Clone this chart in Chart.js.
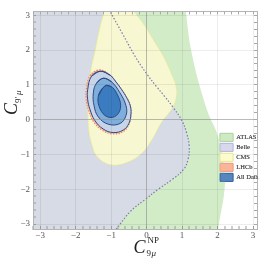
<!DOCTYPE html>
<html><head><meta charset="utf-8">
<script src="https://cdn.jsdelivr.net/npm/chart.js@4/dist/chart.umd.min.js"></script>
<style>html,body{margin:0;padding:0;background:#fff;overflow:hidden}</style>
</head><body>
<canvas id="c" width="262" height="261"></canvas>
<script>
// ---- data ----
const seriesNames = ['ATLAS', 'Belle', 'CMS', 'LHCb', 'All Data'];
const xRange = [-3.2, 3.11];
const yRange = [-3.14, 3.11];
const tickStep = 0.2;

// right-hand boundary of the ATLAS region (top to bottom)
const atlasEdge = [[1.08,3.5],[1.11,3.11],[1.17,2.55],[1.25,2.02],[1.39,1.37],[1.5,0.95],[1.62,0.54],[1.77,0.1],[1.95,-0.3],[2.08,-0.75],[2.17,-1.2],[2.22,-1.6],[2.2,-1.95],[2.16,-2.3],[2.08,-2.75],[2.02,-3.14],[1.99,-3.5]];
// dashed right-hand boundary of the Belle region (top to bottom)
const belleEdge = [[-1.24,3.5],[-1.03,3.11],[-0.68,2.47],[-0.33,1.83],[0.0,1.32],[0.28,0.95],[0.5,0.68],[0.75,0.35],[0.99,-0.02],[1.13,-0.39],[1.2,-0.76],[1.17,-1.13],[1.05,-1.42],[0.72,-1.72],[0.34,-1.99],[-0.05,-2.3],[-0.44,-2.62],[-0.85,-3.14],[-1.13,-3.5]];
// CMS contour
const cmsEdge = [[-1.13,3.4],[-1.2,3.11],[-1.33,2.6],[-1.45,2.0],[-1.55,1.55],[-1.62,1.1],[-1.65,0.5],[-1.64,-0.2],[-1.55,-0.7],[-1.38,-1.08],[-1.0,-1.3],[-0.55,-1.23],[-0.15,-0.98],[0.14,-0.6],[0.42,-0.08],[0.68,0.26],[0.82,0.55],[0.84,0.92],[0.68,1.37],[0.47,1.83],[0.25,2.2],[-0.05,2.7],[-0.35,3.11],[-0.55,3.4]];
// LHCb contour
const lhcbEdge = [[-1.32,1.43],[-1.59,1.27],[-1.7,0.86],[-1.7,0.58],[-1.64,0.29],[-1.5,-0.05],[-1.24,-0.31],[-0.94,-0.41],[-0.65,-0.34],[-0.49,-0.12],[-0.44,0.17],[-0.47,0.45],[-0.56,0.63],[-0.7,0.86],[-0.86,1.08],[-1.03,1.28]];
// All Data contours (outer, middle, inner)
const allOuter = [[-1.3,1.39],[-1.55,1.25],[-1.66,0.86],[-1.66,0.58],[-1.6,0.31],[-1.46,-0.02],[-1.22,-0.27],[-0.94,-0.37],[-0.66,-0.3],[-0.5,-0.11],[-0.44,0.17],[-0.46,0.4],[-0.56,0.63],[-0.7,0.86],[-0.86,1.08],[-1.03,1.28]];
const allMiddle = [[-1.22,1.19],[-1.41,1.05],[-1.5,0.77],[-1.48,0.4],[-1.36,0.08],[-1.08,-0.13],[-0.75,-0.11],[-0.58,0.12],[-0.58,0.4],[-0.75,0.77],[-0.99,1.09]];
const allInner = [[-1.17,0.97],[-1.36,0.68],[-1.31,0.31],[-1.1,0.08],[-0.85,0.12],[-0.73,0.4],[-0.85,0.77],[-1.0,0.95]];

// ---- helpers ----
const pts = a => a.map(p => ({x: p[0], y: p[1]}));
// region extended to the far left, outside the plot
const leftRegion = edge => {
  const far = xRange[0] - 2, top = yRange[1] + 1, bot = yRange[0] - 1;
  return pts([...edge, [far, bot], [far, top], edge[0]]);
};
// closed smooth loop: wrap ends so the spline is continuous
const loop = a => pts([a[a.length - 1], ...a, a[0], a[1]]);
const openClosed = a => pts([...a, a[0]]);

const isInt = v => Math.abs(v - Math.round(v)) < 1e-6;
const fmt = v => { const r = Math.round(v); return r < 0 ? '\u2212' + (-r) : String(r); };

const legendFill = ['#cfe9c4', '#d8d8ec', '#fbfbcb', '#f8b597', '#5686bd'];
const legendStroke = ['#a9d39b', '#b2b2d6', '#e6e69a', '#ee9a78', '#30609e'];

function area(label, data, bg, order, extra) {
  return Object.assign({label, data, showLine: true, fill: 'shape', backgroundColor: bg,
    borderWidth: 0, pointRadius: 0, pointHoverRadius: 0, tension: 0.4, order}, extra || {});
}

const datasets = [
  area('ATLAS', leftRegion(atlasEdge), '#d3ecc8', 10),
  area('Belle', leftRegion(belleEdge), '#d6dbe5', 9),
  area('CMS', openClosed(cmsEdge), '#f7f7d1', 8, {borderWidth: 0.8, borderColor: 'rgba(232,232,150,0.9)'}),
  area('LHCb', loop(lhcbEdge), '#f9c3ab', 6, {borderWidth: 1.2, borderColor: '#f0845a', borderDash: [1.2, 1.6]}),
  area('All Data', loop(allOuter), '#c8d5e9', 5, {borderWidth: 1, borderColor: '#2c4a86'}),
  area('All Data 2', loop(allMiddle), '#7eaedb', 4, {borderWidth: 1, borderColor: '#2c4a86'}),
  area('All Data 3', loop(allInner), '#3a7cbf', 3, {borderWidth: 1, borderColor: '#2c4a86'}),
  {label: 'Belle edge', data: pts(belleEdge), showLine: true, fill: false, borderColor: '#7b7bb0',
   borderWidth: 1.2, borderDash: [1.5, 1.8], pointRadius: 0, tension: 0.4, order: 7}
];

function axisGrid() {
  return {
    z: 1,
    color: c => { const t = c.tick; if (!t) return 'rgba(0,0,0,0)';
      if (Math.abs(t.value) < 1e-6) return 'rgba(140,140,140,0.6)';
      if (isInt(t.value)) return 'rgba(0,0,0,0.07)'; return 'rgba(0,0,0,0)'; },
    lineWidth: c => (c.tick && isInt(c.tick.value)) ? 1 : 0,
    borderDash: c => (c.tick && isInt(c.tick.value) && Math.abs(c.tick.value) > 1e-6) ? [1, 2] : [],
    drawTicks: true, tickLength: -3, tickWidth: 1, tickColor: '#9a9a9a', tickBorderDash: []
  };
}
const mirrorGrid = {z: 1, drawOnChartArea: false, drawTicks: true, tickLength: -3, tickWidth: 1,
  tickColor: '#a8a8a8', tickBorderDash: []};
const mirrorTicks = {display: false, stepSize: tickStep, includeBounds: false, autoSkip: false};
function axisTicks(pad) {
  return {stepSize: tickStep, includeBounds: false, autoSkip: false, maxRotation: 0, minRotation: 0, padding: pad,
    color: '#555', font: {family: '"Liberation Serif", serif', size: 9},
    callback: v => isInt(v) ? fmt(v) : ''};
}
const frameBorder = {display: true, color: '#b4b4b4', width: 1, z: 1};

const legendPlacer = {
  id: 'legendPlacer',
  afterLayout(chart) {
    const lg = chart.legend, a = chart.chartArea;
    if (!lg) return;
    lg.left = a.right - 39; lg.top = a.top + 120;
    lg.right = lg.left + lg.width; lg.bottom = lg.top + lg.height;
  },
  afterDraw(chart) { chart.legend && chart.legend.draw(); }
};

const axisTitles = {
  id: 'axisTitles',
  afterDraw(chart) {
    const ctx = chart.ctx;
    const cx = chart.scales.x.getPixelForValue(0);
    ctx.save();
    ctx.fillStyle = '#1e1e1e';
    ctx.textBaseline = 'alphabetic';
    ctx.font = 'italic 18px "Liberation Serif", serif';
    ctx.fillText('C', cx - 13, 253);
    ctx.font = '9px "Liberation Serif", serif';
    ctx.fillText('NP', cx + 1, 243);
    ctx.fillText('9', cx, 256);
    ctx.font = 'italic 9px "Liberation Serif", serif';
    ctx.fillText('\u03bc', cx + 5, 256);
    // y title
    ctx.translate(17, 115);
    ctx.rotate(-Math.PI / 2);
    ctx.font = 'italic 18px "Liberation Serif", serif';
    ctx.fillText('C', 0, 0);
    ctx.font = '9px "Liberation Serif", serif';
    ctx.fillText('9\u2032', 12, 4);
    ctx.font = 'italic 9px "Liberation Serif", serif';
    ctx.fillText('\u03bc', 20, 4);
    ctx.restore();
  }
};

new Chart(document.getElementById('c'), {
  type: 'scatter',
  data: {datasets},
  plugins: [legendPlacer, axisTitles],
  options: {
    responsive: false, animation: false, events: [],
    devicePixelRatio: 1,
    layout: {padding: {left: 0, top: 4, right: 5, bottom: 19}},
    elements: {line: {capBezierPoints: false}},
    plugins: {
      tooltip: {enabled: false},
      legend: {
        display: true, position: 'chartArea', align: 'start',
        labels: {
          boxWidth: 13, boxHeight: 8, padding: 2, color: '#555',
          font: {family: '"Liberation Serif", serif', size: 6.5},
          generateLabels: () => seriesNames.map((name, i) => ({
            text: name, fillStyle: legendFill[i], strokeStyle: legendStroke[i], fontColor: '#555',
            lineWidth: 0.8, hidden: false, datasetIndex: i}))
        }
      }
    },
    scales: {
      x: {type: 'linear', position: 'bottom', min: xRange[0], max: xRange[1],
          grid: axisGrid(), ticks: axisTicks(4), border: frameBorder,
          afterFit: s => { s.height = 13; }},
      y: {type: 'linear', position: 'left', min: yRange[0], max: yRange[1],
          grid: axisGrid(), ticks: axisTicks(6), border: frameBorder,
          afterFit: s => { s.width = 33; }},
      x2: {type: 'linear', position: 'top', min: xRange[0], max: xRange[1],
           grid: mirrorGrid, ticks: mirrorTicks, border: frameBorder,
           afterFit: s => { s.height = 0; }},
      y2: {type: 'linear', position: 'right', min: yRange[0], max: yRange[1],
           grid: mirrorGrid, ticks: mirrorTicks, border: frameBorder,
           afterFit: s => { s.width = 0; }}
    }
  }
});
</script>
</body></html>
